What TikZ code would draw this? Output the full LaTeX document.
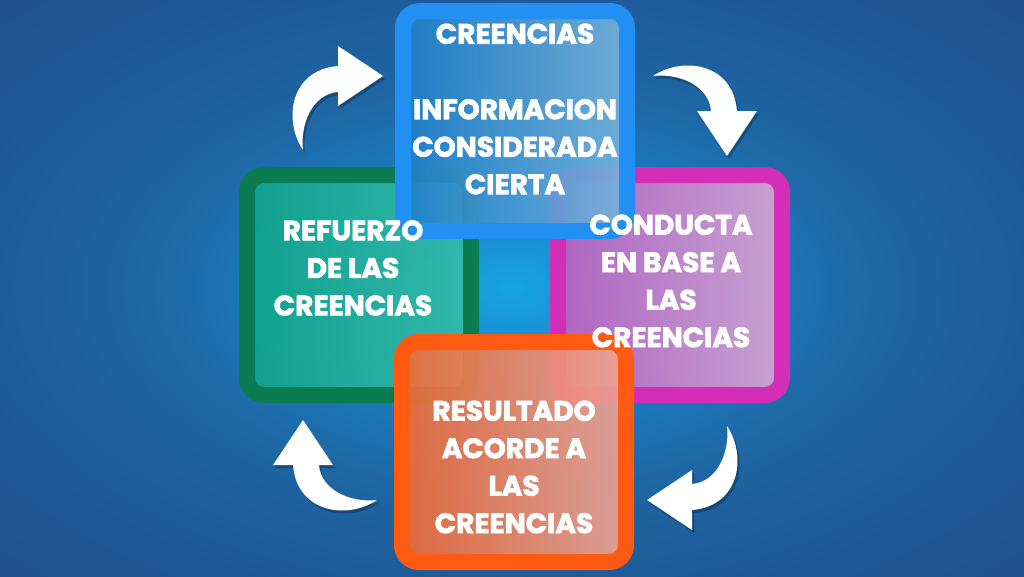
\documentclass[tikz,border=0pt]{standalone}
\usepackage{fontspec}
\setmainfont{Poppins}[BoldFeatures={FakeBold=2.6}]
\usetikzlibrary{shadows}

\definecolor{fondoA}{HTML}{17A4E4}
\definecolor{fondoB}{HTML}{1A86CC}
\definecolor{fondoC}{HTML}{1E66A4}
\definecolor{fondoD}{HTML}{1F5796}
\definecolor{fondoE}{HTML}{224C8A}
\definecolor{verdeBorde}{HTML}{0B7C52}
\definecolor{verdeA}{HTML}{0FA68A}
\definecolor{verdeB}{HTML}{36BCAA}
\definecolor{rosaBorde}{HTML}{D42DB8}
\definecolor{rosaA}{HTML}{C060BF}
\definecolor{rosaB}{HTML}{DBA8D6}
\definecolor{azulBorde}{HTML}{2190F2}
\definecolor{azulA}{HTML}{1F7FC8}
\definecolor{azulB}{HTML}{78B4DC}
\definecolor{naranjaBorde}{HTML}{FF5A12}
\definecolor{naranjaA}{HTML}{F26A35}
\definecolor{naranjaB}{HTML}{EEA595}
\pgfdeclareradialshading{fondo}{\pgfpoint{0bp}{0bp}}{color(0bp)=(fondoA); color(7bp)=(fondoB); color(18bp)=(fondoC); color(28bp)=(fondoD); color(42bp)=(fondoE); color(60bp)=(fondoE)}

\begin{document}
\begin{tikzpicture}[x=1pt, y=-1pt,
        caja/.style={draw=#1, line width=16pt, rounded corners=17pt, minimum width=224pt, minimum height=220pt, inner sep=0pt, fill opacity=0.9},
        texto/.style={text=white, align=center, inner sep=0pt, font=\bfseries\fontsize{28}{37.5}\selectfont},
        flecha/.style={fill=white, drop shadow={shadow xshift=2pt, shadow yshift=-3pt, opacity=0.25, fill=black}}
    ]
        \useasboundingbox (0,0) rectangle (1024,576);
        \shade[shading=fondo] (0,0) rectangle (1024,576);
        \coordinate (ciclo) at (515,288);
        \node[caja=verdeBorde, left color=verdeA, right color=verdeB] (Refuerzo) at (359,285) {};
        \node[caja=rosaBorde, left color=rosaA, right color=rosaB] (Conducta) at (670,285) {};
        \node[caja=azulBorde, left color=azulA, right color=azulB] (Creencias) at (515,121) {};
        \node[caja=naranjaBorde, left color=naranjaA, right color=naranjaB] (Resultado) at (514,452) {};
        \node[texto] (CreenciasTxt) at (515,109) {CREENCIAS\\[38pt]INFORMACION\\CONSIDERADA\\CIERTA};
        \node[texto] (RefuerzoTxt) at (353,268) {REFUERZO\\DE LAS\\CREENCIAS};
        \node[texto] (ConductaTxt) at (671,281) {CONDUCTA\\EN BASE A\\LAS\\CREENCIAS};
        \node[texto] (ResultadoTxt) at (514,467) {RESULTADO\\ACORDE A\\LAS\\CREENCIAS};
        \foreach \giro in {0,-90,-180,-270}
            \fill[flecha, rotate around={\giro:(ciclo)}] (303,150) .. controls (283,120) and (290,70) .. (338,66) -- (338,46) -- (383,76) -- (338,106) -- (338,92) .. controls (312,94) and (300,125) .. (303,150) -- cycle;
    \end{tikzpicture}
\end{document}
